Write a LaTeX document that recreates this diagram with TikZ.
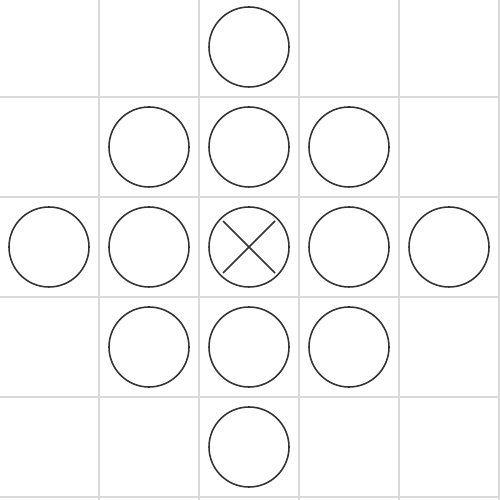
\documentclass[tikz,border=0pt]{standalone}
\begin{document}
\begin{tikzpicture}[
  gridline/.style={draw=black!15, line width=0.45pt},
  peg/.style={circle, draw=black!80, line width=0.45pt, minimum size=0.8cm, inner sep=0pt},
  crossline/.style={draw=black!80, line width=0.45pt}
]
\useasboundingbox (0,0) rectangle (5,5);
\fill[white] (0,0) rectangle (5,5);
\foreach \i in {0,...,5} {
  \draw[gridline] (-0.01+\i,-0.1) -- (-0.01+\i,5.1);
  \draw[gridline] (-0.1,0.03+\i) -- (5.1,0.03+\i);
}
\node[peg] (p02) at (2.49,4.53) {};
\node[peg] (p11) at (1.49,3.53) {};
\node[peg] (p12) at (2.49,3.53) {};
\node[peg] (p13) at (3.49,3.53) {};
\node[peg] (p20) at (0.49,2.53) {};
\node[peg] (p21) at (1.49,2.53) {};
\node[peg] (p22) at (2.49,2.53) {};
\node[peg] (p23) at (3.49,2.53) {};
\node[peg] (p24) at (4.49,2.53) {};
\node[peg] (p31) at (1.49,1.53) {};
\node[peg] (p32) at (2.49,1.53) {};
\node[peg] (p33) at (3.49,1.53) {};
\node[peg] (p42) at (2.49,0.53) {};
\draw[crossline] ([shift={(-0.26,0.26)}]p22.center) -- ([shift={(0.26,-0.26)}]p22.center);
\draw[crossline] ([shift={(-0.26,-0.26)}]p22.center) -- ([shift={(0.26,0.26)}]p22.center);
\end{tikzpicture}
\end{document}
